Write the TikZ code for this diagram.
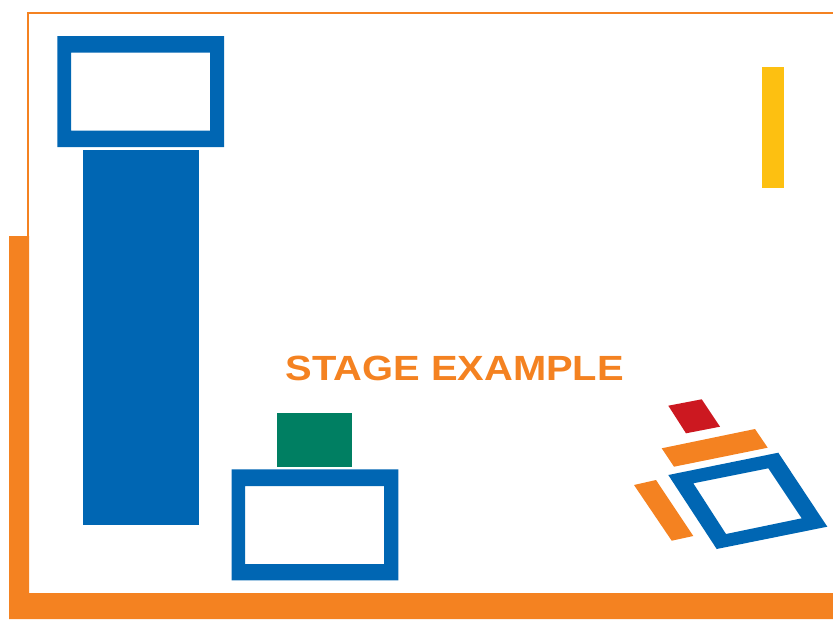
\documentclass[tikz,border=0pt]{standalone}
\usepackage{fontspec}
\newfontfamily\labelfont[FakeStretch=1.14]{Liberation Sans}
\definecolor{stageorange}{HTML}{F48221}
\definecolor{stageblue}{HTML}{0066B3}
\definecolor{stagegreen}{HTML}{007F62}
\definecolor{stageyellow}{HTML}{FDC011}
\definecolor{stagered}{HTML}{CC1820}
\tikzset{
  framepiece/.style={fill=stageblue, even odd rule},
  titletext/.style={text=stageorange, font=\labelfont\bfseries\fontsize{35}{40}\selectfont, inner sep=0pt, anchor=base}
}
\begin{document}
\begin{tikzpicture}[x=1pt,y=-1pt]
\useasboundingbox (0,0) rectangle (833,619);
% orange border
\draw[stageorange, line width=2pt] (27.5,237) -- (27.5,13) -- (833,13);
\fill[stageorange] (9,236) -- (29,236) -- (29,593) -- (833,593) -- (833,619) -- (9,619) -- cycle;
% top-left screen and column
\fill[framepiece] (57.3,36) rectangle (224,147) (71,52.7) rectangle (210,130.7);
\fill[stageblue] (82.7,150) rectangle (198.7,525);
% yellow bar
\fill[stageyellow] (762.3,66.7) rectangle (784.3,187.7);
% green block and bottom frame
\fill[stagegreen] (276.7,412.7) rectangle (351.7,466.7);
\fill[framepiece] (231.7,469.3) rectangle (398.3,580.3) (245,486) rectangle (384,564);
% title
\node[titletext] (title) at (454.7,380.5) {STAGE EXAMPLE};
% bottom right group
\fill[stagered] (668.3,405.7) -- (701.7,399.3) -- (720,426.7) -- (686,433.3) -- cycle;
\fill[stageorange] (661.7,448.3) -- (755,429) -- (767.7,447.7) -- (674,466.7) -- cycle;
\fill[stageorange] (634,485) -- (656,480) -- (693.3,536) -- (671.7,540.7) -- cycle;
\fill[framepiece] (668.3,475) -- (778.3,452.7) -- (827.3,526.7) -- (716.7,549) -- cycle
  (693.3,483.3) -- (768.3,468.3) -- (801.7,518.3) -- (726,534) -- cycle;
\end{tikzpicture}
\end{document}
